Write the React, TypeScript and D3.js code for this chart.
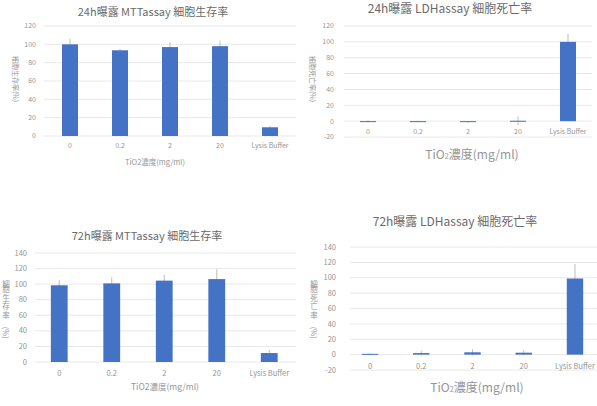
import React from 'react';
import * as d3 from 'd3';

const CATEGORIES = ['0', '0.2', '2', '20', 'Lysis Buffer'];

const MTT_24H = [100, 93.5, 97, 98, 9.5];
const MTT_24H_ERR = [6, 1.5, 5.5, 6, 1.5];
const LDH_24H = [0, 0, -1, 0.5, 100];
const LDH_24H_ERR = [1, 0.5, 0.8, 5.5, 10];
const MTT_72H = [98.5, 101, 104.5, 106.5, 11.5];
const MTT_72H_ERR = [7, 7.5, 7.5, 12.5, 4];
const LDH_72H = [1, 2, 3, 2.5, 99];
const LDH_72H_ERR = [1, 3, 4, 3, 19];

const TICKS_0_120 = [0, 20, 40, 60, 80, 100, 120];
const TICKS_M20_120 = [-20, 0, 20, 40, 60, 80, 100, 120];
const TICKS_0_140 = [0, 20, 40, 60, 80, 100, 120, 140];
const TICKS_M20_140 = [-20, 0, 20, 40, 60, 80, 100, 120, 140];

const FONT = '"Noto Sans CJK JP", "Noto Sans", sans-serif';
const BAR = '#4472C4';
const GRID = '#e8e8e8';
const TICK_TEXT = '#959595';
const TITLE_TEXT = '#6a6a6a';

type PanelProps = {
  title: string;
  titleX: number;
  titleY: number;
  titleSize: number;
  values: number[];
  errors: number[];
  ticks: number[];
  xRange: [number, number];
  yRange: [number, number];
  gridX: [number, number];
  labelRight: number;
  tickSize: number;
  catY: number;
  yTitle: string;
  yTitleX: number;
  yTitleY: number;
  yTitleMode: 'rotate' | 'stack';
  xTitleX: number;
  xTitleY: number;
  xTitleSize: number;
  xTitleSub: boolean;
};

function Panel(p: PanelProps) {
  const y = d3.scaleLinear().domain([p.ticks[0], p.ticks[p.ticks.length - 1]]).range(p.yRange);
  const x = d3.scaleBand().domain(CATEGORIES).range(p.xRange).padding(0);
  const bw = x.bandwidth() * 0.32;
  const fs = p.tickSize;

  // stacked vertical title: CJK upright, "(%)" turned sideways
  const cjk = p.yTitle.replace('(%)', '');
  const step = fs * 1.12;
  const ys = Array.from(cjk).map((_, i) => p.yTitleY + i * step);
  const parenY = p.yTitleY + cjk.length * step + fs * 0.9;

  return (
    <g fontFamily={FONT}>
      <text x={p.titleX} y={p.titleY} textAnchor="middle" fontSize={p.titleSize} fill={TITLE_TEXT}>
        {p.title}
      </text>
      {p.ticks.map((t) => (
        <g key={t}>
          <line x1={p.gridX[0]} x2={p.gridX[1]} y1={y(t)} y2={y(t)} stroke={GRID} strokeWidth={1} />
          <text x={p.labelRight} y={y(t)} dy="0.35em" textAnchor="end" fontSize={fs} fill={TICK_TEXT}>
            {t}
          </text>
        </g>
      ))}
      {CATEGORIES.map((c, i) => {
        const cx = (x(c) as number) + x.bandwidth() / 2;
        const v = p.values[i];
        const e = p.errors[i];
        return (
          <g key={c}>
            <line x1={cx} x2={cx} y1={y(v - e)} y2={y(v + e)} stroke="#bcbcbc" strokeWidth={1} />
            <rect
              x={cx - bw / 2}
              width={bw}
              y={Math.min(y(v), y(0))}
              height={Math.max(Math.abs(y(0) - y(v)), 1)}
              fill={BAR}
            />
            <text x={cx} y={p.catY} dy="0.35em" textAnchor="middle" fontSize={fs} fill={TICK_TEXT}>
              {c}
            </text>
          </g>
        );
      })}
      {p.yTitleMode === 'rotate' ? (
        <text
          transform={`translate(${p.yTitleX},${p.yTitleY}) rotate(90)`}
          textAnchor="middle"
          dy="0.35em"
          fontSize={fs}
          fill={TICK_TEXT}
        >
          {p.yTitle}
        </text>
      ) : (
        <g fill={TICK_TEXT} fontSize={fs}>
          <text
            x={ys.map(() => p.yTitleX).join(' ')}
            y={ys.join(' ')}
            dy="0.35em"
            textAnchor="middle"
          >
            {cjk}
          </text>
          <text transform={`translate(${p.yTitleX},${parenY}) rotate(90)`} dy="0.35em" textAnchor="middle">
            (%)
          </text>
        </g>
      )}
      <text x={p.xTitleX} y={p.xTitleY} dy="0.35em" textAnchor="middle" fontSize={p.xTitleSize} fill={TICK_TEXT}>
        {p.xTitleSub ? (
          <>
            TiO<tspan fontSize={p.xTitleSize * 0.6}>2</tspan>濃度(mg/ml)
          </>
        ) : (
          'TiO2濃度(mg/ml)'
        )}
      </text>
    </g>
  );
}

export default function App() {
  return (
    <div style={{ position: 'fixed', left: 0, top: 0, width: 597, height: 406, background: '#fff' }}>
      <svg width={597} height={406}>
        <Panel
          title="24h曝露 MTTassay 細胞生存率"
          titleX={153}
          titleY={16}
          titleSize={11}
          values={MTT_24H}
          errors={MTT_24H_ERR}
          ticks={TICKS_0_120}
          xRange={[45, 295]}
          yRange={[136, 26]}
          gridX={[44, 296]}
          labelRight={36}
          tickSize={7}
          catY={146}
          yTitle="細胞生存率(%)"
          yTitleX={15}
          yTitleY={79}
          yTitleMode="rotate"
          xTitleX={155}
          xTitleY={162}
          xTitleSize={7.5}
          xTitleSub={false}
        />
        <Panel
          title="24h曝露 LDHassay 細胞死亡率"
          titleX={450}
          titleY={13}
          titleSize={12}
          values={LDH_24H}
          errors={LDH_24H_ERR}
          ticks={TICKS_M20_120}
          xRange={[343, 593]}
          yRange={[137, 26]}
          gridX={[344, 592]}
          labelRight={334}
          tickSize={7}
          catY={132}
          yTitle="細胞死亡率(%)"
          yTitleX={312}
          yTitleY={79}
          yTitleMode="rotate"
          xTitleX={472}
          xTitleY={155}
          xTitleSize={12}
          xTitleSub={true}
        />
        <Panel
          title="72h曝露 MTTassay 細胞生存率"
          titleX={147}
          titleY={240}
          titleSize={11}
          values={MTT_72H}
          errors={MTT_72H_ERR}
          ticks={TICKS_0_140}
          xRange={[33, 295.5]}
          yRange={[362, 253]}
          gridX={[35, 296]}
          labelRight={27}
          tickSize={7.5}
          catY={373}
          yTitle="細胞生存率(%)"
          yTitleX={6}
          yTitleY={284}
          yTitleMode="stack"
          xTitleX={165}
          xTitleY={387}
          xTitleSize={8.5}
          xTitleSub={false}
        />
        <Panel
          title="72h曝露 LDHassay 細胞死亡率"
          titleX={455}
          titleY={226}
          titleSize={12}
          values={LDH_72H}
          errors={LDH_72H_ERR}
          ticks={TICKS_M20_140}
          xRange={[344.4, 600.6]}
          yRange={[370, 247]}
          gridX={[350, 597]}
          labelRight={336}
          tickSize={7.5}
          catY={366}
          yTitle="細胞死亡率(%)"
          yTitleX={314}
          yTitleY={284}
          yTitleMode="stack"
          xTitleX={477}
          xTitleY={388}
          xTitleSize={12}
          xTitleSub={true}
        />
      </svg>
    </div>
  );
}
